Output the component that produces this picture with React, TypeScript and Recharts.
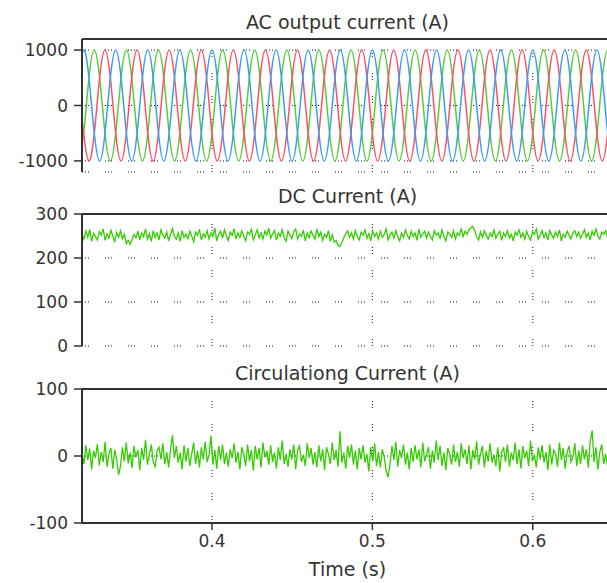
import React from "react";
import { LineChart, Line, XAxis, YAxis, CartesianGrid, ReferenceLine } from "recharts";

// sampling of the traces (s)
const AC_START = 0.32 - 1 / 300;
const AC_STEP = 1 / 300;
const NOISE_START = 0.319;
const NOISE_STEP = 0.0012;

const timeDomain = [0.319, 0.65];
const timeTicks = [0.4, 0.5, 0.6];
const acTicks = [-1000, 0, 1000];
const dcTicks = [0, 100, 200, 300];
const circTicks = [-100, 0, 100];

// AC output current, three phases (A)
const phaseBlue = [
  500, 1000, 500, -500, -1000, -500, 500, 1000, 500, -500, -1000, -500,
  500, 1000, 500, -500, -1000, -500, 500, 1000, 500, -500, -1000, -500,
  500, 1000, 500, -500, -1000, -500, 500, 1000, 500, -500, -1000, -500,
  500, 1000, 500, -500, -1000, -500, 500, 1000, 500, -500, -1000, -500,
  500, 1000, 500, -500, -1000, -500, 500, 1000, 500, -500, -1000, -500,
  500, 1000, 500, -500, -1000, -500, 500, 1000, 500, -500, -1000, -500,
  500, 1000, 500, -500, -1000, -500, 500, 1000, 500, -500, -1000, -500,
  500, 1000, 500, -500, -1000, -500, 500, 1000, 500, -500, -1000, -500,
  500, 1000, 500, -500, -1000, -500, 500,
];
const phaseGreen = [
  -1000, -500, 500, 1000, 500, -500, -1000, -500, 500, 1000, 500, -500,
  -1000, -500, 500, 1000, 500, -500, -1000, -500, 500, 1000, 500, -500,
  -1000, -500, 500, 1000, 500, -500, -1000, -500, 500, 1000, 500, -500,
  -1000, -500, 500, 1000, 500, -500, -1000, -500, 500, 1000, 500, -500,
  -1000, -500, 500, 1000, 500, -500, -1000, -500, 500, 1000, 500, -500,
  -1000, -500, 500, 1000, 500, -500, -1000, -500, 500, 1000, 500, -500,
  -1000, -500, 500, 1000, 500, -500, -1000, -500, 500, 1000, 500, -500,
  -1000, -500, 500, 1000, 500, -500, -1000, -500, 500, 1000, 500, -500,
  -1000, -500, 500, 1000, 500, -500, -1000,
];
const phaseRed = [
  500, -500, -1000, -500, 500, 1000, 500, -500, -1000, -500, 500, 1000,
  500, -500, -1000, -500, 500, 1000, 500, -500, -1000, -500, 500, 1000,
  500, -500, -1000, -500, 500, 1000, 500, -500, -1000, -500, 500, 1000,
  500, -500, -1000, -500, 500, 1000, 500, -500, -1000, -500, 500, 1000,
  500, -500, -1000, -500, 500, 1000, 500, -500, -1000, -500, 500, 1000,
  500, -500, -1000, -500, 500, 1000, 500, -500, -1000, -500, 500, 1000,
  500, -500, -1000, -500, 500, 1000, 500, -500, -1000, -500, 500, 1000,
  500, -500, -1000, -500, 500, 1000, 500, -500, -1000, -500, 500, 1000,
  500, -500, -1000, -500, 500, 1000, 500,
];

// DC current (A)
const dcCurrent = [
  254, 243, 261, 247, 265, 238, 256, 249, 241, 260, 252, 266, 240, 255, 245, 263, 250, 236, 258, 247,
  262, 244, 254, 233, 240, 231, 242, 253, 246, 261, 241, 257, 249, 266, 243, 255, 238, 262, 247, 257,
  241, 264, 252, 245, 259, 239, 254, 267, 249, 243, 257, 238, 262, 247, 254, 244, 261, 250, 237, 259,
  252, 265, 241, 255, 247, 262, 243, 257, 249, 268, 239, 254, 261, 245, 264, 250, 240, 259, 252, 266,
  243, 257, 247, 262, 250, 239, 259, 254, 265, 241, 252, 264, 246, 257, 243, 261, 252, 268, 245, 255,
  262, 241, 257, 249, 264, 246, 238, 261, 252, 244, 259, 266, 243, 255, 249, 263, 239, 257, 246, 261,
  252, 243, 266, 249, 259, 240, 254, 247, 262, 238, 253, 236, 240, 229, 226, 235, 246, 255, 262, 247,
  257, 243, 262, 249, 241, 259, 252, 264, 245, 255, 239, 262, 249, 257, 243, 261, 247, 254, 266, 241,
  252, 259, 245, 262, 249, 239, 257, 247, 264, 252, 243, 261, 249, 257, 240, 266, 247, 254, 261, 245,
  259, 249, 241, 262, 252, 257, 245, 264, 249, 239, 259, 254, 247, 262, 243, 257, 252, 266, 249, 261,
  254, 265, 268, 272, 262, 249, 241, 259, 247, 262, 252, 243, 257, 249, 264, 245, 254, 261, 240, 257,
  249, 262, 245, 254, 239, 259, 252, 264, 247, 257, 243, 261, 249, 241, 259, 254, 266, 243, 252, 262,
  247, 257, 241, 262, 252, 245, 259, 249, 264, 239, 254, 247, 261, 252, 243, 257, 262, 249, 259, 245,
  254, 264, 247, 257, 241, 261, 252, 266, 249, 243, 259, 254, 262, 247, 257, 252, 239, 261, 249, 254,
];

// Circulating current (A)
const circCurrent = [
  5, -12, 16, -6, 11, -20, 8, -3, 18, -14, 6, -9, 21, -16, 3, 12, -19, 9, -5, -28,
  -15, 13, -8, 20, -11, 5, -18, 15, -2, 9, -21, 12, -6, 24, -13, 2, 17, -9, -16, 8,
  13, -5, 19, -12, 6, -17, 10, 31, -3, 15, -10, 5, -20, 16, -8, 12, -15, 3, 20, -12,
  8, -17, 13, -5, 21, -9, 2, 30, -13, 9, -19, 15, -6, 17, -12, 5, -16, 10, -3, 19,
  -10, 6, -20, 13, 3, -15, 17, -8, 9, -22, 15, -5, 12, -17, 20, -2, 8, -13, 16, -9,
  5, -19, 13, -6, 23, -12, 3, -16, 10, -5, 17, -20, 8, 15, -9, 2, -15, 19, -3, 12,
  -13, 6, -17, 16, -8, 10, -21, 13, 3, -12, 20, -6, 9, -16, 37, -10, 5, -19, 15, -3,
  17, -13, 8, -20, 12, -5, 16, -10, 3, -23, 13, -8, 19, -15, 6, -17, 10, -2, -22, -32,
  -12, 15, -6, 21, -16, 9, -3, 17, -13, 5, -20, 12, -9, 16, -5, 10, -17, 20, -8, 3,
  13, -19, 8, -10, 23, -6, 15, -15, 5, -21, 12, 2, -13, 17, -9, 6, -16, 19, -3, 10,
  -12, 16, -20, 9, -5, 22, -13, 3, 15, -17, 8, -8, 19, -10, 2, -15, 13, -23, 6, 12,
  -9, 17, -16, 5, -6, 20, -12, 10, -19, 15, -3, 8, -15, 23, -8, 2, -17, 13, -5, 16,
  -10, 6, -21, 17, -13, 9, 3, -16, 20, -6, 12, -19, 5, 15, -9, -2, 19, -15, 8, -12,
  16, -5, 10, -17, 22, 38, -9, 13, -20, 6, 17, -12, 3, -15, 20, -8, 9, -16, 12, -3,
];

const acData = phaseBlue.map((v, i) => ({
  t: AC_START + i * AC_STEP,
  blue: v,
  green: phaseGreen[i],
  red: phaseRed[i],
}));
const dcData = dcCurrent.map((v, i) => ({ t: NOISE_START + i * NOISE_STEP, v }));
const circData = circCurrent.map((v, i) => ({ t: NOISE_START + i * NOISE_STEP, v }));

const FONT = "DejaVu Sans, sans-serif";
const TEXT = "#333";
const AXIS = "#333";
const W = 613;
const GRID = "1 2 1 2 1 16";

function Title({ top, children }: { top: number; children: React.ReactNode }) {
  return (
    <div
      style={{
        position: "absolute",
        left: 82,
        width: 531,
        top,
        textAlign: "center",
        fontSize: 19,
        lineHeight: "19px",
        color: TEXT,
      }}
    >
      {children}
    </div>
  );
}

function yAxisProps(domain: number[], ticks: number[]) {
  return {
    type: "number" as const,
    domain,
    ticks,
    width: 82,
    interval: 0 as const,
    tickSize: 8,
    tickMargin: 6,
    allowDataOverflow: true,
    axisLine: { stroke: AXIS, strokeWidth: 2 },
    tickLine: { stroke: AXIS, strokeWidth: 1.5 },
    tick: { fontSize: 17, fill: TEXT },
  };
}

function hiddenXAxis() {
  return (
    <XAxis
      dataKey="t"
      type="number"
      domain={timeDomain}
      ticks={timeTicks}
      allowDataOverflow
      height={0}
      tick={false}
      tickLine={false}
      axisLine={{ stroke: AXIS, strokeWidth: 2 }}
    />
  );
}

function timeGrid() {
  return timeTicks.map((t) => (
    <ReferenceLine key={t} x={t} stroke="#111" strokeDasharray={GRID} />
  ));
}

export default function App() {
  return (
    <div
      style={{
        position: "relative",
        width: 607,
        height: 583,
        overflow: "hidden",
        fontFamily: FONT,
        background: "#fff",
      }}
    >
      <style>{"body{margin:0;overflow:hidden}"}</style>

      <Title top={13}>AC output current (A)</Title>
      <div style={{ position: "absolute", left: 0, top: 0 }}>
        <LineChart width={W} height={180} data={acData} margin={{ top: 39, right: 0, bottom: 8, left: 0 }}>
          <CartesianGrid stroke="#111" strokeDasharray={GRID} vertical={false} />
          {hiddenXAxis()}
          <YAxis {...yAxisProps([-1200, 1200], acTicks)} />
          <ReferenceLine y={1200} stroke={AXIS} strokeWidth={2} />
          {timeGrid()}
          <Line type="natural" dataKey="green" stroke="#55cc3a" strokeWidth={1.5} dot={false} isAnimationActive={false} />
          <Line type="natural" dataKey="red" stroke="#ff4f62" strokeWidth={1.5} dot={false} isAnimationActive={false} />
          <Line type="natural" dataKey="blue" stroke="#3a9cf7" strokeWidth={1.5} dot={false} isAnimationActive={false} />
        </LineChart>
      </div>

      <Title top={187}>DC Current (A)</Title>
      <div style={{ position: "absolute", left: 0, top: 180 }}>
        <LineChart width={W} height={182} data={dcData} margin={{ top: 34, right: 0, bottom: 16, left: 0 }}>
          <CartesianGrid stroke="#111" strokeDasharray={GRID} vertical={false} />
          {hiddenXAxis()}
          <YAxis {...yAxisProps([0, 300], dcTicks)} />
          <ReferenceLine y={300} stroke={AXIS} strokeWidth={2} />
          {timeGrid()}
          <Line type="linear" dataKey="v" stroke="#33cc00" strokeWidth={1.3} dot={false} isAnimationActive={false} />
        </LineChart>
      </div>

      <Title top={364}>Circulationg Current (A)</Title>
      <div style={{ position: "absolute", left: 0, top: 350 }}>
        <LineChart width={W} height={233} data={circData} margin={{ top: 39, right: 0, bottom: 0, left: 0 }}>
          <CartesianGrid stroke="#111" strokeDasharray={GRID} vertical={false} />
          <XAxis
            dataKey="t"
            type="number"
            domain={timeDomain}
            ticks={timeTicks}
            allowDataOverflow
            height={60}
            tickSize={7}
            tickMargin={5}
            axisLine={{ stroke: AXIS, strokeWidth: 2 }}
            tickLine={{ stroke: AXIS, strokeWidth: 1.5 }}
            tick={{ fontSize: 17, fill: TEXT }}
            label={{ value: "Time (s)", position: "insideBottom", offset: 7, fill: TEXT, fontSize: 19 }}
          />
          <YAxis {...yAxisProps([-100, 100], circTicks)} />
          <ReferenceLine y={100} stroke={AXIS} strokeWidth={2} />
          {timeGrid()}
          <Line type="linear" dataKey="v" stroke="#33cc00" strokeWidth={1.3} dot={false} isAnimationActive={false} />
        </LineChart>
      </div>
    </div>
  );
}
